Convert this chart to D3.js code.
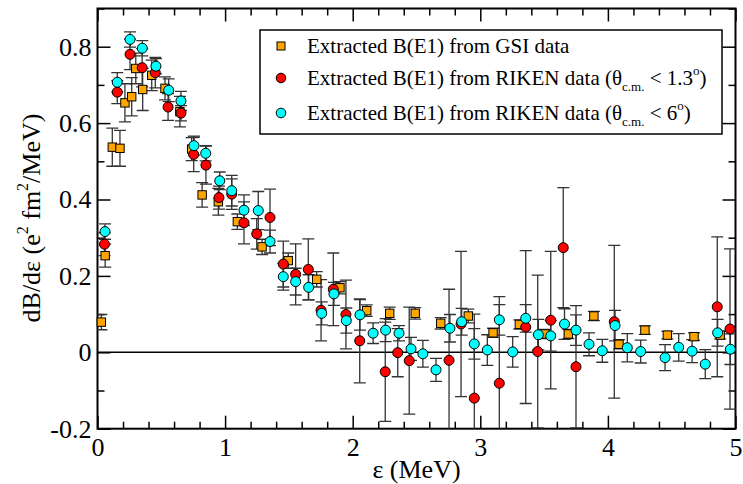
<!DOCTYPE html>
<html lang="en">
<head>
  <meta charset="UTF-8">
  <title>Extracted B(E1) distribution</title>
  <script src="https://d3js.org/d3.v7.min.js"></script>
  <style>
    body { margin: 0; background: white; }
    svg { display: block; font-family: "Liberation Serif", "Times New Roman", serif; }
    .tick line { stroke: black; stroke-width: 1.5px; }
    .tick text { fill: black; }
    .bar { stroke: #333; stroke-width: 1.3px; fill: none; }
  </style>
</head>
<body>
  <svg width="743" height="484"></svg>
  <script>
    // GSI data (squares)
    const gsiX = [0.03, 0.06, 0.116, 0.176, 0.215, 0.268, 0.30, 0.354, 0.425, 0.529, 0.646, 0.738, 0.82, 0.947,
      1.096, 1.29, 1.495, 1.718, 1.90, 2.11, 2.29, 2.49, 2.69, 2.906, 3.10, 3.306, 3.507, 3.69, 3.89, 4.087,
      4.29, 4.466, 4.675, 4.88];
    const gsiY = [0.079, 0.253, 0.537, 0.534, 0.653, 0.669, 0.743, 0.688, 0.725, 0.691, 0.63, 0.532, 0.412, 0.394,
      0.342, 0.276, 0.24, 0.191, 0.169, 0.109, 0.102, 0.102, 0.076, 0.095, 0.051, 0.073, 0.048, 0.048, 0.095, 0.021,
      0.058, 0.045, 0.041, 0.045];
    const gsiErr = [0.02, 0.03, 0.05, 0.047, 0.05, 0.05, 0.04, 0.055, 0.04, 0.03, 0.04, 0.03, 0.032, 0.035,
      0.02, 0.02, 0.02, 0.02, 0.016, 0.015, 0.016, 0.015, 0.015, 0.018, 0.012, 0.012, 0.012, 0.012, 0.012, 0.012,
      0.011, 0.01, 0.01, 0.01];

    // RIKEN, theta < 1.3 deg (red circles)
    const rikenAX = [0.055, 0.155, 0.255, 0.35, 0.453, 0.553, 0.654, 0.754, 0.85, 0.952, 1.052, 1.148, 1.248, 1.352,
      1.456, 1.553, 1.652, 1.752, 1.848, 1.947, 2.055, 2.255, 2.353, 2.443, 2.755, 2.849, 2.953, 3.149, 3.356, 3.45,
      3.552, 3.65, 3.75, 4.05, 4.857, 4.957];
    const rikenAY = [0.283, 0.681, 0.78, 0.745, 0.732, 0.642, 0.626, 0.518, 0.49, 0.405, 0.414, 0.339, 0.31, 0.353,
      0.231, 0.204, 0.217, 0.11, 0.165, 0.099, 0.03, -0.051, -0.001, -0.022, -0.021, 0.074, -0.12, -0.081, 0.066, 0.002,
      0.084, 0.274, -0.038, 0.08, 0.119, 0.061];
    const rikenAErr = [0.03, 0.03, 0.04, 0.05, 0.04, 0.035, 0.02, 0.045, 0.05, 0.03, 0.04, 0.055, 0.04, 0.074,
      0.06, 0.08, 0.08, 0.08, 0.095, 0.09, 0.11, 0.13, 0.063, 0.14, 0.186, 0.19, 0.22, 0.227, 0.2, 0.2,
      0.18, 0.157, 0.16, 0.2, 0.183, 0.21];

    // RIKEN, theta < 6 deg (cyan circles)
    const rikenBX = [0.059, 0.155, 0.255, 0.351, 0.458, 0.558, 0.654, 0.756, 0.848, 0.958, 1.052, 1.148, 1.26, 1.352,
      1.456, 1.553, 1.655, 1.757, 1.853, 1.95, 2.057, 2.16, 2.258, 2.363, 2.457, 2.55, 2.653, 2.762, 2.854, 2.953,
      3.055, 3.149, 3.254, 3.356, 3.455, 3.552, 3.66, 3.75, 3.852, 3.956, 4.056, 4.152, 4.257, 4.448, 4.555, 4.66,
      4.763, 4.86, 4.96];
    const rikenBY = [0.316, 0.707, 0.819, 0.796, 0.749, 0.686, 0.658, 0.541, 0.521, 0.449, 0.423, 0.372, 0.371, 0.29,
      0.198, 0.185, 0.17, 0.102, 0.153, 0.083, 0.098, 0.05, 0.058, 0.05, 0.009, -0.004, -0.046, 0.063, 0.08, 0.022,
      0.006, 0.085, 0.001, 0.089, 0.046, 0.043, 0.074, 0.058, 0.021, 0.004, 0.07, 0.012, 0.002, -0.014, 0.013, 0.003,
      -0.031, 0.051, 0.008];
    const rikenBErr = [0.02, 0.025, 0.02, 0.02, 0.02, 0.03, 0.025, 0.025, 0.02, 0.023, 0.04, 0.04, 0.05, 0.03,
      0.035, 0.035, 0.033, 0.03, 0.03, 0.033, 0.04, 0.027, 0.03, 0.02, 0.03, 0.035, 0.03, 0.036, 0.035, 0.04,
      0.04, 0.04, 0.04, 0.036, 0.04, 0.04, 0.04, 0.04, 0.03, 0.03, 0.04, 0.037, 0.03, 0.034, 0.036, 0.03,
      0.038, 0.035, 0.04];

    const xMajor = [0, 1, 2, 3, 4, 5];
    const xMinor = [0.2, 0.4, 0.6, 0.8, 1.2, 1.4, 1.6, 1.8, 2.2, 2.4, 2.6, 2.8, 3.2, 3.4, 3.6, 3.8, 4.2, 4.4, 4.6, 4.8];
    const yMajor = [-0.2, 0, 0.2, 0.4, 0.6, 0.8];
    const yMinor = [-0.1, 0.1, 0.3, 0.5, 0.7, 0.9];

    const svg = d3.select("svg");
    const pLeft = 97.5, pRight = 735.5, pTop = 8.5, pBottom = 428.7;

    const x = d3.scaleLinear().domain([0, 5]).range([pLeft, pRight]);
    const y = d3.scaleLinear().domain([-0.2, 0.9]).range([pBottom, pTop]);

    svg.append("defs").append("clipPath").attr("id", "plot")
      .append("rect")
      .attr("x", pLeft).attr("y", pTop)
      .attr("width", pRight - pLeft).attr("height", pBottom - pTop);

    // zero line
    svg.append("line")
      .attr("x1", pLeft).attr("x2", pRight)
      .attr("y1", y(0)).attr("y2", y(0))
      .attr("stroke", "black").attr("stroke-width", 1.5);

    const fmt = d => d === 0 ? "0" : String(d);

    // axes with inward ticks on all four sides
    function axis(gen, transform, values, size, labels, pad) {
      const g = svg.append("g").attr("transform", transform)
        .call(gen.tickValues(values).tickSizeInner(-size).tickSizeOuter(0)
          .tickPadding(pad || 0).tickFormat(labels ? fmt : ""));
      g.select(".domain").remove();
      g.attr("font-family", "Liberation Serif, Times New Roman, serif").attr("font-size", 26);
      return g;
    }
    axis(d3.axisBottom(x), `translate(0,${pBottom})`, xMajor, 13, true, 8.5);
    axis(d3.axisBottom(x), `translate(0,${pBottom})`, xMinor, 7, false);
    axis(d3.axisTop(x), `translate(0,${pTop})`, xMajor, 13, false);
    axis(d3.axisTop(x), `translate(0,${pTop})`, xMinor, 7, false);
    axis(d3.axisLeft(y), `translate(${pLeft},0)`, yMajor, 13, true, 6);
    axis(d3.axisLeft(y), `translate(${pLeft},0)`, yMinor, 7, false);
    axis(d3.axisRight(y), `translate(${pRight},0)`, yMajor, 13, false);
    axis(d3.axisRight(y), `translate(${pRight},0)`, yMinor, 7, false);

    // frame
    svg.append("rect")
      .attr("x", pLeft).attr("y", pTop)
      .attr("width", pRight - pLeft).attr("height", pBottom - pTop)
      .attr("fill", "none").attr("stroke", "black").attr("stroke-width", 2);

    const plot = svg.append("g").attr("clip-path", "url(#plot)");
    const cap = 6;

    function drawSet(xs, ys, errs, fill, shape) {
      const pts = xs.map((v, i) => ({ x: v, y: ys[i], e: errs[i] }));
      const bars = plot.append("g").selectAll("g").data(pts).enter().append("g").attr("class", "bar");
      bars.append("line")
        .attr("x1", d => x(d.x)).attr("x2", d => x(d.x))
        .attr("y1", d => y(d.y + d.e)).attr("y2", d => y(d.y - d.e));
      bars.append("line")
        .attr("x1", d => x(d.x) - cap).attr("x2", d => x(d.x) + cap)
        .attr("y1", d => y(d.y + d.e)).attr("y2", d => y(d.y + d.e));
      bars.append("line")
        .attr("x1", d => x(d.x) - cap).attr("x2", d => x(d.x) + cap)
        .attr("y1", d => y(d.y - d.e)).attr("y2", d => y(d.y - d.e));

      const marks = svg.append("g").selectAll("path").data(pts).enter();
      if (shape === "square") {
        marks.append("rect")
          .attr("x", d => x(d.x) - 4.2).attr("y", d => y(d.y) - 4.2)
          .attr("width", 8.4).attr("height", 8.4)
          .attr("fill", fill).attr("stroke", "black").attr("stroke-width", 1);
      } else {
        marks.append("circle")
          .attr("cx", d => x(d.x)).attr("cy", d => y(d.y)).attr("r", 5)
          .attr("fill", fill).attr("stroke", "black").attr("stroke-width", 1);
      }
    }

    drawSet(gsiX, gsiY, gsiErr, "#ffa500", "square");
    drawSet(rikenAX, rikenAY, rikenAErr, "#ff0000", "circle");
    drawSet(rikenBX, rikenBY, rikenBErr, "#00ffff", "circle");

    // legend
    const leg = svg.append("g");
    leg.append("rect")
      .attr("x", 260).attr("y", 30).attr("width", 462).attr("height", 104)
      .attr("fill", "white").attr("stroke", "black").attr("stroke-width", 1.5);
    const rows = [46, 78, 113];
    leg.append("rect").attr("x", 277).attr("y", rows[0] - 4).attr("width", 8).attr("height", 8)
      .attr("fill", "#ffa500").attr("stroke", "black");
    leg.append("circle").attr("cx", 281).attr("cy", rows[1]).attr("r", 4.8)
      .attr("fill", "#ff0000").attr("stroke", "black");
    leg.append("circle").attr("cx", 281).attr("cy", rows[2]).attr("r", 4.8)
      .attr("fill", "#00ffff").attr("stroke", "black");

    const legText = (yy, angle) => {
      const t = leg.append("text").attr("x", 307).attr("y", yy + 7).attr("font-size", 21);
      if (angle === null) {
        t.text("Extracted B(E1) from GSI data");
        return;
      }
      t.append("tspan").text("Extracted B(E1) from RIKEN data (θ");
      t.append("tspan").attr("font-size", 13).attr("dy", 6).text("c.m.");
      t.append("tspan").attr("dy", -6).text(" < " + angle);
      t.append("tspan").attr("font-size", 13).attr("dy", -10).text("o");
      t.append("tspan").attr("dy", 10).text(")");
    };
    legText(rows[0], null);
    legText(rows[1], "1.3");
    legText(rows[2], "6");

    // axis titles
    svg.append("text")
      .attr("x", (pLeft + pRight) / 2).attr("y", 478)
      .attr("text-anchor", "middle").attr("font-size", 26)
      .text("ε (MeV)");

    const yl = svg.append("text")
      .attr("transform", "translate(40,218) rotate(-90)")
      .attr("text-anchor", "middle").attr("font-size", 26);
    yl.append("tspan").text("dB/dε (e");
    yl.append("tspan").attr("font-size", 16).attr("dy", -12).text("2");
    yl.append("tspan").attr("dy", 12).text(" fm");
    yl.append("tspan").attr("font-size", 16).attr("dy", -12).text("2");
    yl.append("tspan").attr("dy", 12).text("/MeV)");
  </script>
</body>
</html>
